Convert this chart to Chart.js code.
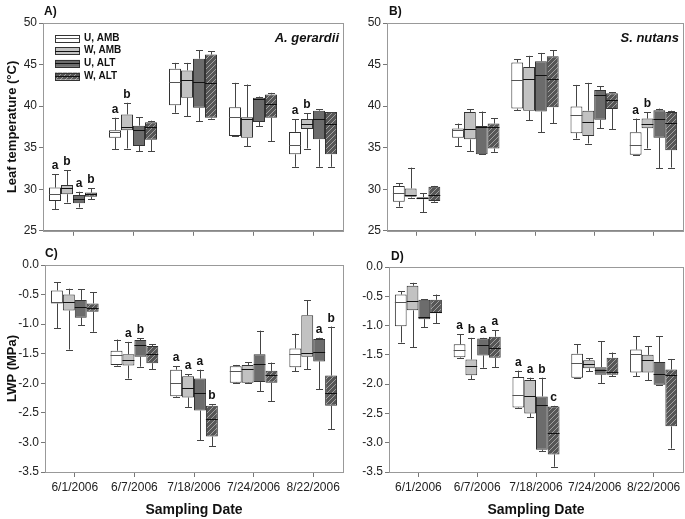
<!DOCTYPE html>
<html>
<head>
<meta charset="utf-8">
<script src="https://cdn.jsdelivr.net/npm/chart.js@4.4.1/dist/chart.umd.min.js"></script>
<style>
  body { margin: 0; background: #fff; width: 685px; height: 519px; position: relative; overflow: hidden; }
  canvas { position: absolute; }
</style>
</head>
<body>
<canvas id="cA" width="345" height="240" style="left:0;top:0"></canvas>
<canvas id="cB" width="340" height="240" style="left:345px;top:0"></canvas>
<canvas id="cC" width="345" height="274" style="left:0;top:245px"></canvas>
<canvas id="cD" width="340" height="274" style="left:345px;top:245px"></canvas>
<script>
const dates = ['6/1/2006', '6/7/2006', '7/18/2006', '7/24/2006', '8/22/2006'];
const series = ['U, AMB', 'W, AMB', 'U, ALT', 'W, ALT'];

// each entry: [min, q1, median, q3, max] for one date
const tempAg_UAMB = [[27.6, 28.6, 29.4, 30.2, 31.8], [34.8, 36.2, 36.9, 37.1, 38.6], [39.2, 40.1, 42.9, 44.5, 45.2], [36.4, 36.4, 38.65, 39.85, 42.8], [32.7, 34.2, 35.35, 36.9, 38.45]];
const tempAg_WAMB = [[28.4, 29.4, 30.1, 30.5, 32.3], [34.9, 37.1, 37.5, 39.0, 40.4], [38.8, 41.0, 43.1, 44.3, 45.2], [35.2, 36.2, 38.45, 38.65, 42.6], [34.9, 37.25, 37.85, 38.45, 39.15]];
const tempAg_UALT = [[27.8, 28.3, 28.85, 29.3, 29.7], [34.6, 35.2, 37.1, 37.65, 38.65], [38.2, 39.8, 42.9, 45.7, 46.7], [37.6, 38.1, 40.8, 41.0, 41.15], [32.7, 36.0, 38.4, 39.45, 39.65]];
const tempAg_WALT = [[28.8, 29.1, 29.4, 29.6, 30.1], [34.6, 35.95, 37.45, 38.05, 38.25], [38.5, 38.6, 42.8, 46.2, 46.6], [35.8, 38.6, 40.3, 41.4, 41.6], [32.7, 34.2, 37.85, 39.3, 39.3]];

const tempSn_UAMB = [[27.9, 28.5, 29.6, 30.4, 30.7], [35.2, 36.2, 37.1, 37.3, 37.9], [39.55, 39.7, 43.2, 45.25, 45.65], [36.1, 36.75, 38.9, 39.95, 42.55], [34.15, 34.15, 35.35, 36.85, 38.5]];
const tempSn_WAMB = [[29.0, 29.1, 29.3, 30.1, 32.6], [34.6, 36.0, 37.2, 39.3, 39.6], [38.3, 39.45, 43.3, 44.7, 46.05], [35.5, 36.4, 38.05, 39.45, 42.8], [34.9, 37.35, 37.85, 38.5, 39.25]];
const tempSn_UALT = [[27.25, 28.8, 28.9, 29.05, 29.5], [34.2, 34.2, 37.5, 37.6, 39.35], [36.85, 39.35, 43.7, 45.4, 46.4], [37.35, 38.35, 41.3, 41.95, 42.4], [32.5, 36.2, 38.5, 39.5, 39.7]];
const tempSn_WALT = [[28.5, 28.6, 29.3, 30.3, 30.4], [34.5, 34.9, 37.5, 37.9, 38.55], [37.95, 39.85, 43.3, 46.0, 46.7], [37.25, 39.65, 40.7, 41.55, 41.7], [32.6, 34.7, 37.95, 39.3, 39.45]];

const lwpAg_UAMB = [[-1.07, -0.65, -0.62, -0.43, -0.29], [-1.70, -1.69, -1.52, -1.45, -1.26], [-2.23, -2.22, -1.99, -1.77, -1.71], [-2.0, -1.99, -1.80, -1.71, -1.69], [-1.80, -1.73, -1.50, -1.41, -1.16]];
const lwpAg_WAMB = [[-1.43, -0.77, -0.63, -0.50, -0.40], [-1.92, -1.70, -1.60, -1.51, -1.30], [-2.40, -2.24, -2.08, -1.88, -1.85], [-2.0, -1.99, -1.76, -1.69, -1.64], [-1.76, -1.55, -1.48, -0.85, -0.60]];
const lwpAg_UALT = [[-1.02, -0.89, -0.71, -0.59, -0.41], [-1.72, -1.55, -1.35, -1.27, -1.24], [-2.96, -2.46, -2.16, -1.92, -1.77], [-2.13, -1.98, -1.68, -1.51, -1.11], [-2.10, -1.63, -1.47, -1.25, -1.23]];
const lwpAg_WALT = [[-1.13, -0.79, -0.72, -0.65, -0.46], [-1.76, -1.66, -1.50, -1.37, -1.34], [-3.06, -2.90, -2.60, -2.38, -2.35], [-2.30, -1.99, -1.86, -1.79, -1.65], [-2.78, -2.38, -2.16, -1.87, -1.04]];

const lwpSn_UAMB = [[-1.29, -1.01, -0.60, -0.47, -0.41], [-1.55, -1.54, -1.42, -1.32, -1.15], [-2.41, -2.40, -2.19, -1.88, -1.77], [-1.89, -1.89, -1.64, -1.48, -1.32], [-1.86, -1.80, -1.48, -1.41, -1.18]];
const lwpSn_WAMB = [[-1.37, -0.74, -0.58, -0.32, -0.27], [-1.92, -1.85, -1.69, -1.58, -1.21], [-2.56, -2.50, -2.21, -1.93, -1.89], [-1.78, -1.73, -1.66, -1.59, -1.56], [-1.93, -1.80, -1.59, -1.50, -1.35]];
const lwpSn_UALT = [[-1.03, -0.89, -0.86, -0.56, -0.55], [-1.72, -1.51, -1.34, -1.22, -1.21], [-3.14, -3.12, -2.35, -2.21, -1.89], [-1.98, -1.84, -1.76, -1.71, -1.27], [-2.01, -2.01, -1.82, -1.62, -1.18]];
const lwpSn_WALT = [[-0.96, -0.79, -0.77, -0.56, -0.47], [-1.71, -1.55, -1.38, -1.19, -1.08], [-3.41, -3.20, -2.83, -2.38, -2.37], [-1.86, -1.84, -1.79, -1.55, -1.46], [-3.10, -2.72, -1.84, -1.75, -1.57]];

// significance letters per date, in series order
const lettersA = [['a', 'b', 'a', 'b'], ['a', 'b', '', ''], ['', '', '', ''], ['', '', '', ''], ['a', 'b', '', '']];
const lettersB = [['', '', '', ''], ['', '', '', ''], ['', '', '', ''], ['', '', '', ''], ['a', 'b', '', '']];
const lettersC = [['', '', '', ''], ['', 'a', 'b', ''], ['a', 'a', 'a', 'b'], ['', '', '', ''], ['', '', 'a', 'b']];
const lettersD = [['', '', '', ''], ['a', 'b', 'a', 'a'], ['a', 'a', 'b', 'c'], ['', '', '', ''], ['', '', '', '']];

Chart.defaults.font.family = "'Liberation Sans', Arial, sans-serif";
Chart.defaults.color = '#222';

function hatch() {
  const c = document.createElement('canvas');
  c.width = 5; c.height = 5;
  const g = c.getContext('2d');
  g.fillStyle = '#565656';
  g.fillRect(0, 0, 5, 5);
  g.strokeStyle = '#a0a0a0';
  g.lineWidth = 1;
  g.beginPath();
  g.moveTo(-1, 6); g.lineTo(6, -1);
  g.moveTo(-1, 1); g.lineTo(1, -1);
  g.moveTo(4, 6); g.lineTo(6, 4);
  g.stroke();
  return g.createPattern(c, 'repeat');
}
const fills = ['#ffffff', '#c2c2c2', '#6c6c6c', hatch()];

const boxPlugin = {
  id: 'boxes',
  beforeDatasetsDraw(chart) {
    const a = chart.chartArea, ctx = chart.ctx;
    ctx.save();
    ctx.strokeStyle = '#999';
    ctx.lineWidth = 1;
    ctx.strokeRect(Math.round(a.left) + 0.5, Math.round(a.top) + 0.5, Math.round(a.right - a.left), Math.round(a.bottom - a.top));
    ctx.restore();
  },
  afterDatasetsDraw(chart, args, o) {
    const ctx = chart.ctx, y = chart.scales.y, a = chart.chartArea;
    ctx.save();
    chart.data.datasets.forEach((ds, i) => {
      chart.getDatasetMeta(i).data.forEach((bar, j) => {
        const [lo, q1, med, q3, hi] = ds.stats[j];
        const x = Math.round(bar.x) + 0.5, cap = 3.5, half = bar.width / 2;
        ctx.strokeStyle = '#444';
        ctx.lineWidth = 1;
        ctx.beginPath();
        ctx.moveTo(x, y.getPixelForValue(q3)); ctx.lineTo(x, y.getPixelForValue(hi));
        ctx.moveTo(x, y.getPixelForValue(q1)); ctx.lineTo(x, y.getPixelForValue(lo));
        const yh = Math.round(y.getPixelForValue(hi)) + 0.5, yl = Math.round(y.getPixelForValue(lo)) + 0.5;
        ctx.moveTo(x - cap, yh); ctx.lineTo(x + cap, yh);
        ctx.moveTo(x - cap, yl); ctx.lineTo(x + cap, yl);
        ctx.stroke();
        const ym = Math.round(y.getPixelForValue(med)) + 0.5;
        ctx.strokeStyle = i === 0 ? '#555' : '#111';
        ctx.beginPath();
        ctx.moveTo(bar.x - half, ym); ctx.lineTo(bar.x + half, ym);
        ctx.stroke();
        const t = ds.letters[j];
        if (t) {
          ctx.fillStyle = '#111';
          ctx.font = "bold 12px 'Liberation Sans', Arial, sans-serif";
          ctx.textAlign = 'center';
          ctx.textBaseline = 'alphabetic';
          ctx.fillText(t, bar.x, y.getPixelForValue(hi) - 5);
        }
      });
    });
    // panel tag and species name
    ctx.fillStyle = '#111';
    ctx.textBaseline = 'middle';
    ctx.textAlign = 'left';
    ctx.font = "bold 12px 'Liberation Sans', Arial, sans-serif";
    ctx.fillText(o.tag, o.tagX, o.tagY);
    if (o.species) {
      ctx.textAlign = 'right';
      ctx.font = "italic bold 13px 'Liberation Sans', Arial, sans-serif";
      ctx.fillText(o.species, a.right - 4, a.top + 15);
    }
    if (o.legend) {
      chart.data.datasets.forEach((ds, i) => {
        const ly = a.top + 15 + i * 12.7, lx = a.left + 12;
        ctx.fillStyle = ds.backgroundColor;
        ctx.fillRect(lx, ly - 3.5, 25, 7);
        ctx.strokeStyle = '#333';
        ctx.strokeRect(lx + 0.5, Math.round(ly - 3.5) + 0.5, 24, 7);
        ctx.beginPath();
        ctx.moveTo(lx, Math.round(ly) + 0.5); ctx.lineTo(lx + 25, Math.round(ly) + 0.5);
        ctx.strokeStyle = i === 0 ? '#555' : '#111';
        ctx.stroke();
        ctx.fillStyle = '#111';
        ctx.textAlign = 'left';
        ctx.font = "bold 10px 'Liberation Sans', Arial, sans-serif";
        ctx.fillText(ds.label, lx + 29, ly);
      });
    }
    ctx.restore();
  }
};

function panel(id, stats, letters, o) {
  const datasets = series.map((name, i) => ({
    label: name,
    data: stats[i].map(s => [s[1], s[3]]),
    stats: stats[i],
    letters: letters.map(row => row[i]),
    backgroundColor: fills[i],
    borderColor: '#333',
    borderWidth: 1,
    borderSkipped: false,
    barPercentage: 1,
    categoryPercentage: 0.8
  }));
  new Chart(document.getElementById(id), {
    type: 'bar',
    data: { labels: dates, datasets: datasets },
    options: {
      responsive: false,
      animation: false,
      devicePixelRatio: 1,
      layout: { padding: o.pad },
      plugins: {
        legend: { display: false },
        tooltip: { enabled: false },
        boxes: o
      },
      scales: {
        x: {
          offset: true,
          grid: { offset: false, drawOnChartArea: false, tickLength: 5, color: '#777' },
          border: { color: '#888' },
          ticks: { display: o.xLabels, font: { size: 12 }, padding: 3, maxRotation: 0, autoSkip: false },
          title: { display: o.xLabels, text: 'Sampling Date', font: { size: 14, weight: 'bold' }, color: '#111', padding: { top: 0, bottom: 0 } },
          afterFit: s => { s.height = o.xHeight; }
        },
        y: {
          min: o.min, max: o.max,
          grid: { drawOnChartArea: false, tickLength: 4, color: '#777' },
          border: { color: '#888' },
          ticks: { stepSize: o.step, padding: 2, font: { size: 12 }, callback: v => o.step < 1 ? v.toFixed(1) : v },
          title: { display: !!o.yTitle, text: o.yTitle, font: { size: 13, weight: 'bold' }, color: '#111', padding: { top: 5, bottom: 0 } },
          afterFit: s => { s.width = o.yWidth; }
        }
      }
    },
    plugins: [boxPlugin]
  });
}

panel('cA', [tempAg_UAMB, tempAg_WAMB, tempAg_UALT, tempAg_WALT], lettersA, {
  pad: { left: 0, top: 23, right: 2, bottom: 0 }, yWidth: 43, xHeight: 7, xLabels: false,
  min: 25, max: 50, step: 5, yTitle: 'Leaf temperature (°C)',
  tag: 'A)', tagX: 44, tagY: 12, species: 'A. gerardii', legend: true
});
panel('cB', [tempSn_UAMB, tempSn_WAMB, tempSn_UALT, tempSn_WALT], lettersB, {
  pad: { left: 0, top: 23, right: 2, bottom: 0 }, yWidth: 42, xHeight: 7, xLabels: false,
  min: 25, max: 50, step: 5, yTitle: '',
  tag: 'B)', tagX: 44, tagY: 12, species: 'S. nutans', legend: false
});
panel('cC', [lwpAg_UAMB, lwpAg_WAMB, lwpAg_UALT, lwpAg_WALT], lettersC, {
  pad: { left: 0, top: 20, right: 2, bottom: 0 }, yWidth: 45, xHeight: 47, xLabels: true,
  min: -3.5, max: 0, step: 0.5, yTitle: 'LWP (MPa)',
  tag: 'C)', tagX: 45, tagY: 9, species: '', legend: false
});
panel('cD', [lwpSn_UAMB, lwpSn_WAMB, lwpSn_UALT, lwpSn_WALT], lettersD, {
  pad: { left: 0, top: 22, right: 2, bottom: 0 }, yWidth: 44, xHeight: 47, xLabels: true,
  min: -3.5, max: 0, step: 0.5, yTitle: '',
  tag: 'D)', tagX: 46, tagY: 12, species: '', legend: false
});
</script>
</body>
</html>
